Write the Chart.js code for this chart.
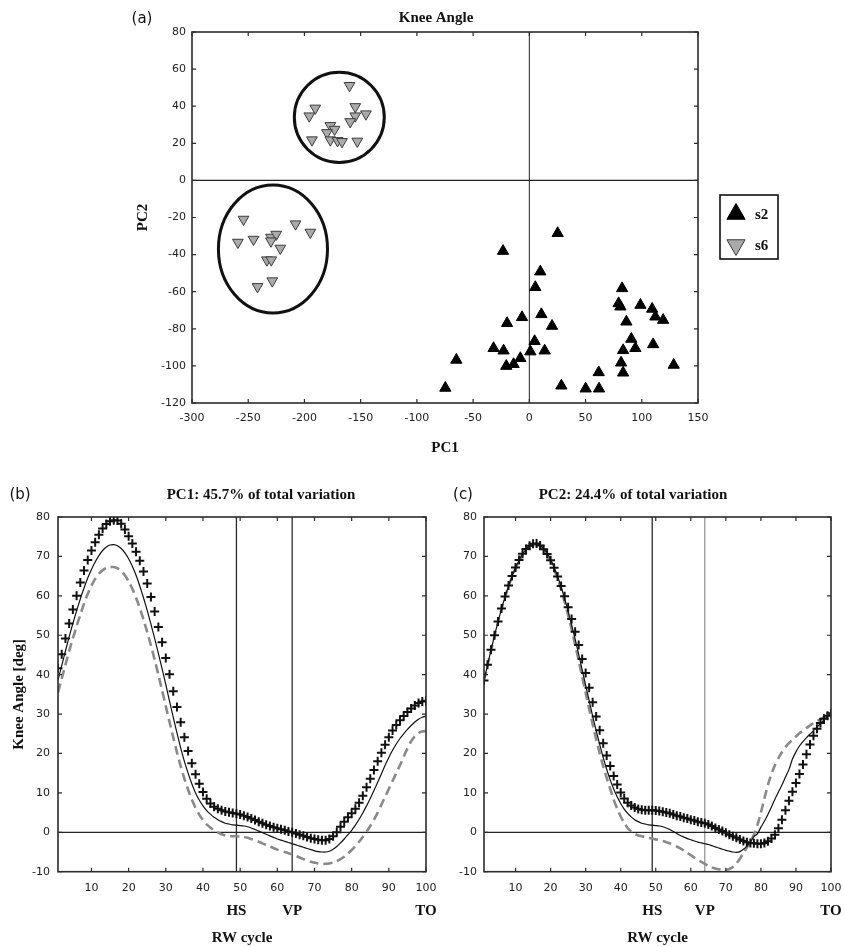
<!DOCTYPE html>
<html>
<head>
<meta charset="utf-8">
<script src="https://cdn.jsdelivr.net/npm/chart.js@4.4.1/dist/chart.umd.min.js"></script>
<style>
  html, body { margin: 0; padding: 0; background: #fff; }
  #wrap { position: relative; width: 844px; height: 947px; overflow: hidden; }
  canvas { position: absolute; }
</style>
</head>
<body>
<div id="wrap">
  <canvas id="chartA" width="844" height="465" style="left:0;top:0"></canvas>
  <canvas id="chartB" width="450" height="477" style="left:0;top:470px"></canvas>
  <canvas id="chartC" width="412" height="477" style="left:440px;top:470px"></canvas>
</div>
<script>
// ---- (a) scores on PC1 / PC2 ----
const s2PC1 = [25.2, -23.4, 9.8, 5.3, 82.5, 79.4, 81.0, 98.8, 109.2, 112.1, 119.0, 86.3, -6.5, 10.7, -19.8, 20.2, 90.7, 4.7, -31.8, -22.9, 13.6, 0.9, 94.3, 110.1, 83.4, -8.0, -14.0, -20.5, 81.6, 128.4, -64.9, 61.7, 83.4, -74.7, 28.5, 50.1, 62.0];
const s2PC2 = [-28.5, -38.1, -49.2, -57.6, -58.2, -66.3, -68.1, -67.2, -69.3, -73.5, -75.3, -76.2, -73.8, -72.2, -77.0, -78.5, -85.5, -86.7, -90.5, -91.8, -91.8, -92.3, -90.5, -88.4, -91.6, -95.9, -99.1, -100.1, -98.3, -99.5, -96.8, -103.5, -103.7, -111.9, -110.7, -112.3, -112.3];
const s6PC1 = [-159.9, -190.4, -195.7, -154.8, -154.8, -145.3, -159.3, -177, -173.2, -180, -193.3, -177, -170.6, -166.6, -153, -254.2, -259.2, -245.3, -229.8, -225.1, -229.8, -207.9, -194.8, -221.5, -233.4, -229.5, -228.6, -241.7];
const s6PC2 = [51.1, 38.9, 34.7, 39.7, 34.7, 35.8, 31.6, 29.5, 27.5, 25.7, 21.8, 21.8, 21.4, 20.9, 21.1, -21.0, -33.4, -31.8, -30.7, -29.1, -32.7, -23.5, -28.0, -36.6, -42.9, -42.9, -54.2, -57.3];
// circled groups (centre and half-axes, in PC units)
const groupCx = [-169, -228];
const groupCy = [34, -37];
const groupRx = [40, 48.5];
const groupRy = [24.3, 34.5];

// ---- (b), (c) knee angle over the RW cycle ----
const cycle = [1,2,3,4,5,6,7,8,9,10,11,12,13,14,15,16,17,18,19,20,21,22,23,24,25,26,27,28,29,30,31,32,33,34,35,36,37,38,39,40,41,42,43,44,45,46,47,48,49,50,51,52,53,54,55,56,57,58,59,60,61,62,63,64,65,66,67,68,69,70,71,72,73,74,75,76,77,78,79,80,81,82,83,84,85,86,87,88,89,90,91,92,93,94,95,96,97,98,99,100];
const cycleTicks = [10, 20, 30, 40, 50, 60, 70, 80, 90, 100];
const eventPos = [49, 64, 100];
const eventNames = ['HS', 'VP', 'TO'];

const meanB = [38.6,42.3,46,49.6,53,56.2,59.2,62,64.5,66.7,68.6,70.2,71.5,72.4,72.9,73,72.7,72,70.9,69.4,67.5,65.2,62.5,59.5,56.3,52.8,49.2,45.4,41.5,37.5,33.3,29.2,25.2,21.4,18,15,12.3,10,8.2,6.7,5.5,4.6,3.8,3.2,2.7,2.3,2.1,1.9,1.8,1.7,1.6,1.4,1.1,0.7,0.3,-0.1,-0.5,-0.9,-1.3,-1.7,-2,-2.3,-2.6,-2.9,-3.2,-3.5,-3.8,-4.1,-4.4,-4.7,-4.9,-5,-5,-4.8,-4.3,-3.6,-2.7,-1.7,-0.6,0.5,1.8,3.3,4.9,6.7,8.6,10.6,12.7,14.8,17,19,20.8,22.4,23.8,25,26.1,27.1,28,28.7,29.2,29.5];
const plusB = [41.6,45.2,49.2,53,56.5,60,63.4,66.4,69.1,71.5,73.6,75.5,77.1,78.2,78.9,79.2,79.1,78.3,76.8,75.1,73.3,71.2,68.9,66.2,63.1,59.7,56,52.1,48.2,44.2,40.1,35.8,31.8,27.9,24.1,20.6,17.5,14.7,12.3,10.2,8.5,7.3,6.5,6,5.6,5.3,5.1,4.9,4.7,4.5,4.2,3.9,3.5,3.1,2.7,2.3,1.9,1.6,1.3,1,0.8,0.5,0.2,0,-0.3,-0.6,-0.9,-1.2,-1.5,-1.7,-1.9,-2,-2,-1.7,-1,0,1.4,2.7,3.8,4.8,6,7.5,9.3,11.4,13.6,15.8,18,20.2,22.2,24.1,25.8,27.2,28.4,29.5,30.5,31.4,32.2,32.8,33.2,33.4];
const minusB = [35.5,39,42.5,46,49.2,52.3,55.2,58,60.5,62.6,64.3,65.6,66.5,67.1,67.3,67.3,67,66.3,65.2,63.7,61.8,59.5,56.9,54,50.8,47.4,43.8,40,36,32,28,24.1,20.3,16.8,13.6,10.8,8.3,6.2,4.5,3.1,2,1.2,0.5,0,-0.5,-0.8,-1,-1,-1,-1.1,-1.2,-1.4,-1.7,-2,-2.4,-2.8,-3.2,-3.6,-4,-4.4,-4.7,-5,-5.3,-5.6,-6,-6.4,-6.8,-7.2,-7.5,-7.7,-7.9,-8,-8,-7.9,-7.7,-7.3,-6.8,-6.2,-5.4,-4.5,-3.5,-2.4,-1.2,0.1,1.6,3.2,5,7,9,11,13,15,17,19.2,21.3,23.1,24.4,25.2,25.6,25.7];

const meanC = [38.5,42.4,46.2,49.9,53.4,56.7,59.7,62.5,64.9,67.1,69,70.6,71.8,72.6,73.1,73.2,72.8,72,70.8,69.2,67.2,64.9,62.3,59.3,56.1,52.6,49,45.2,41.3,37.3,33.4,29.5,25.8,22.3,19,16,13.3,11,9,7.3,5.9,4.8,3.9,3.2,2.7,2.3,2.1,1.9,1.8,1.7,1.6,1.4,1.1,0.7,0.2,-0.3,-0.8,-1.2,-1.6,-1.9,-2.2,-2.5,-2.7,-2.9,-3.1,-3.4,-3.7,-4,-4.3,-4.6,-4.8,-5,-5.1,-4.9,-4.3,-3.5,-2.5,-1.1,-0.4,1.3,2.8,4.5,6.4,8.4,10.2,12,14,15.9,18.6,20.4,21.9,23,24,24.9,25.8,26.7,27.6,28.5,29.4,30.2];
const plusC = [38.5,42.5,46.3,50,53.5,56.8,59.8,62.6,65,67.2,69.1,70.7,71.9,72.7,73.2,73.3,72.8,71.8,70.6,69,67.1,64.9,62.5,59.9,57.1,54.1,50.9,47.5,44,40.4,36.7,33,29.4,25.9,22.6,19.5,16.8,14.3,12.1,10.1,8.6,7.5,6.8,6.3,5.9,5.7,5.6,5.6,5.6,5.5,5.4,5.2,5,4.8,4.5,4.2,4,3.7,3.5,3.2,3,2.7,2.5,2.3,2,1.6,1.1,0.7,0.3,-0.1,-0.6,-1,-1.4,-1.8,-2.2,-2.5,-2.7,-2.8,-2.9,-2.9,-2.7,-2.3,-1.6,-0.6,1,3.2,5.6,8,10.3,12.5,14.8,17.2,19.8,22.3,24.5,26.3,27.7,28.8,29.6,30.2];
const minusC = [38.5,42.3,46.1,49.8,53.3,56.6,59.6,62.4,64.8,67,68.9,70.5,71.7,72.5,73,73.1,72.7,71.8,70.5,68.9,66.8,64.4,61.6,58.5,55.1,51.5,47.6,43.6,39.5,35.4,31.3,27.4,23.6,20.1,16.8,13.8,11.1,8.3,6,4,2.4,1.1,0.2,-0.4,-0.8,-1,-1.2,-1.4,-1.6,-1.8,-2,-2.2,-2.5,-2.8,-3.2,-3.6,-4.1,-4.6,-5.2,-5.8,-6.4,-7,-7.5,-8,-8.5,-8.9,-9.2,-9.4,-9.5,-9.5,-9.3,-8.8,-7.9,-6.7,-5.3,-3.9,-2.4,-0.6,1.8,5,8.6,12,14.8,17,18.8,20.3,21.6,22.6,23.5,24.3,25.1,25.8,26.5,27.1,27.7,28.2,28.7,29.2,29.6,29.9];

const serif = "'Liberation Serif', 'DejaVu Serif', serif";
const sans = "'DejaVu Sans', 'Liberation Sans', sans-serif";
const tickFont = { family: sans, size: 11 };
const labelFont = { family: serif, size: 15, weight: 'bold' };
const noGrid = { display: false, drawTicks: false, tickLength: 0 };

// zero lines / event lines under the data, box and inward ticks over it
const axesBox = {
  id: 'axesBox',
  beforeDatasetsDraw(chart, args, opts) {
    const { ctx, chartArea: a, scales: { x, y } } = chart;
    ctx.save();
    (opts.vLines || []).forEach((l) => {
      const px = x.getPixelForValue(l.value);
      ctx.strokeStyle = l.color;
      ctx.lineWidth = l.width;
      ctx.beginPath();
      ctx.moveTo(px, a.top);
      ctx.lineTo(px, a.bottom);
      ctx.stroke();
    });
    (opts.hLines || []).forEach((l) => {
      const py = y.getPixelForValue(l.value);
      ctx.strokeStyle = l.color;
      ctx.lineWidth = l.width;
      ctx.beginPath();
      ctx.moveTo(a.left, py);
      ctx.lineTo(a.right, py);
      ctx.stroke();
    });
    ctx.restore();
  },
  afterDatasetsDraw(chart, args, opts) {
    const { ctx, chartArea: a, scales: { x, y } } = chart;
    const t = 4;
    ctx.save();
    ctx.strokeStyle = '#2b2b2b';
    ctx.lineWidth = 1.2;
    ctx.beginPath();
    x.ticks.forEach((tk) => {
      const px = x.getPixelForValue(tk.value);
      ctx.moveTo(px, a.bottom); ctx.lineTo(px, a.bottom - t);
      ctx.moveTo(px, a.top); ctx.lineTo(px, a.top + t);
    });
    y.ticks.forEach((tk) => {
      const py = y.getPixelForValue(tk.value);
      ctx.moveTo(a.left, py); ctx.lineTo(a.left + t, py);
      ctx.moveTo(a.right, py); ctx.lineTo(a.right - t, py);
    });
    ctx.stroke();
    ctx.lineWidth = 1.6;
    ctx.strokeRect(a.left, a.top, a.right - a.left, a.bottom - a.top);
    ctx.restore();
  }
};

// free text: panel letters and titles
const panelText = {
  id: 'panelText',
  afterDraw(chart, args, opts) {
    const { ctx } = chart;
    ctx.save();
    ctx.fillStyle = '#111';
    ctx.textAlign = 'center';
    ctx.textBaseline = 'middle';
    (opts.items || []).forEach((it) => {
      ctx.font = it.font;
      ctx.fillText(it.text, it.x, it.y);
    });
    ctx.restore();
  }
};

// ellipses round the two s6 groups
const groupRings = {
  id: 'groupRings',
  afterDatasetsDraw(chart) {
    const { ctx, scales: { x, y } } = chart;
    ctx.save();
    ctx.strokeStyle = '#111';
    ctx.lineWidth = 3;
    groupCx.forEach((cx, i) => {
      const px = x.getPixelForValue(cx);
      const py = y.getPixelForValue(groupCy[i]);
      const rx = Math.abs(x.getPixelForValue(cx + groupRx[i]) - px);
      const ry = Math.abs(y.getPixelForValue(groupCy[i] + groupRy[i]) - py);
      ctx.beginPath();
      ctx.ellipse(px, py, rx, ry, 0, 0, Math.PI * 2);
      ctx.stroke();
    });
    ctx.restore();
  }
};

// boxed legend to the right of the plot
const boxLegend = {
  id: 'boxLegend',
  afterDraw(chart) {
    const { ctx, chartArea: a } = chart;
    const left = a.right + 22, top = a.top + 163, w = 58, h = 64;
    ctx.save();
    ctx.strokeStyle = '#111';
    ctx.lineWidth = 1.6;
    ctx.strokeRect(left, top, w, h);
    chart.data.datasets.forEach((ds, i) => {
      const cy = top + 19 + i * 31;
      ctx.fillStyle = ds.pointBackgroundColor;
      ctx.strokeStyle = ds.pointBorderColor;
      ctx.lineWidth = 1;
      Chart.helpers.drawPoint(ctx, { pointStyle: ds.pointStyle, rotation: ds.pointRotation || 0, radius: 10.5, borderWidth: 1 }, left + 16, cy);
      ctx.fillStyle = '#111';
      ctx.font = 'bold 15px ' + serif;
      ctx.textAlign = 'left';
      ctx.textBaseline = 'middle';
      ctx.fillText(ds.label, left + 35, cy + 1);
    });
    ctx.restore();
  }
};

new Chart(document.getElementById('chartA'), {
  type: 'scatter',
  data: {
    datasets: [
      {
        label: 's2',
        data: s2PC1.map((v, i) => ({ x: v, y: s2PC2[i] })),
        pointStyle: 'triangle',
        pointRadius: 6.5,
        pointBackgroundColor: '#000',
        pointBorderColor: '#000',
        pointBorderWidth: 1
      },
      {
        label: 's6',
        data: s6PC1.map((v, i) => ({ x: v, y: s6PC2[i] })),
        pointStyle: 'triangle',
        pointRotation: 180,
        pointRadius: 6.2,
        pointBackgroundColor: '#aaaaaa',
        pointBorderColor: '#3c3c3c',
        pointBorderWidth: 1
      }
    ]
  },
  options: {
    responsive: false,
    animation: false,
    layout: { padding: { left: 126, right: 146, top: 32, bottom: 5 } },
    plugins: {
      legend: { display: false },
      tooltip: { enabled: false },
      axesBox: {
        vLines: [{ value: 0, color: '#222', width: 1 }],
        hLines: [{ value: 0, color: '#222', width: 1.2 }]
      },
      panelText: {
        items: [
          { text: '(a)', x: 142, y: 19, font: '15px ' + sans },
          { text: 'Knee Angle', x: 436, y: 18, font: 'bold 15px ' + serif }
        ]
      }
    },
    scales: {
      x: {
        type: 'linear',
        min: -300,
        max: 150,
        ticks: { stepSize: 50, padding: 9, font: tickFont, color: '#222', maxRotation: 0 },
        grid: noGrid,
        border: { display: false },
        title: { display: true, text: 'PC1', font: labelFont, color: '#111', padding: { top: 0, bottom: 3 } },
        afterFit(s) { s.height = 57; }
      },
      y: {
        min: -120,
        max: 80,
        ticks: { stepSize: 20, padding: 6, font: tickFont, color: '#222' },
        grid: noGrid,
        border: { display: false },
        title: { display: true, text: 'PC2', font: labelFont, color: '#111', padding: { top: 8, bottom: 0 } },
        afterFit(s) { s.width = 66; }
      }
    }
  },
  plugins: [axesBox, groupRings, boxLegend, panelText]
});

function pts(arr) {
  return cycle.map((c, i) => ({ x: c, y: arr[i] }));
}

function kneeChart(id, mean, plus, minus, opt) {
  return new Chart(document.getElementById(id), {
    type: 'line',
    data: {
      datasets: [
        {
          label: '+',
          data: pts(plus),
          showLine: false,
          pointStyle: 'cross',
          pointRadius: 4.5,
          pointBorderWidth: 2,
          pointBorderColor: '#111',
          order: 0
        },
        {
          label: 'mean',
          data: pts(mean),
          borderColor: '#111',
          borderWidth: 1.2,
          pointRadius: 0,
          tension: 0.2,
          order: 1
        },
        {
          label: '-',
          data: pts(minus),
          borderColor: '#8a8a8a',
          borderWidth: 2.6,
          borderDash: [9, 5],
          pointRadius: 0,
          tension: 0.2,
          order: 2
        }
      ]
    },
    options: {
      responsive: false,
      animation: false,
      layout: { padding: { left: 0, right: opt.padRight, top: 47, bottom: 0 } },
      plugins: {
        legend: { display: false },
        tooltip: { enabled: false },
        axesBox: {
          vLines: [
            { value: eventPos[0], color: '#2b2b2b', width: 1.3 },
            { value: eventPos[1], color: opt.vpColor, width: opt.vpWidth }
          ],
          hLines: [{ value: 0, color: '#222', width: 1.3 }]
        },
        panelText: { items: opt.texts }
      },
      scales: {
        x: {
          type: 'linear',
          min: 1,
          max: 100,
          weight: 0,
          afterBuildTicks(s) { s.ticks = cycleTicks.map((v) => ({ value: v })); },
          ticks: { padding: 10, font: tickFont, color: '#222', autoSkip: false, maxRotation: 0 },
          grid: noGrid,
          border: { display: false },
          afterFit(s) { s.height = 22; }
        },
        x2: {
          type: 'linear',
          position: 'bottom',
          axis: 'x',
          min: 1,
          max: 100,
          weight: 1,
          afterBuildTicks(s) { s.ticks = eventPos.map((v) => ({ value: v })); },
          ticks: {
            padding: 8,
            font: labelFont,
            color: '#111',
            autoSkip: false,
            maxRotation: 0,
            callback: (v) => eventNames[eventPos.indexOf(v)]
          },
          grid: noGrid,
          border: { display: false },
          title: { display: true, text: 'RW cycle', font: labelFont, color: '#111', padding: { top: 0, bottom: 0 } },
          afterFit(s) { s.height = 53.3; }
        },
        y: {
          min: -10,
          max: 80,
          ticks: { stepSize: 10, padding: opt.yPad, font: tickFont, color: '#222' },
          grid: noGrid,
          border: { display: false },
          title: { display: opt.yTitle !== '', text: opt.yTitle, font: labelFont, color: '#111', padding: { top: 10, bottom: 0 } },
          afterFit(s) { s.width = opt.yWidth; }
        }
      }
    },
    plugins: [axesBox, panelText]
  });
}

kneeChart('chartB', meanB, plusB, minusB, {
  padRight: 24,
  yWidth: 58,
  yPad: 8,
  yTitle: 'Knee Angle [deg]',
  vpColor: '#2b2b2b',
  vpWidth: 1.3,
  texts: [
    { text: '(b)', x: 20, y: 25, font: '15px ' + sans },
    { text: 'PC1: 45.7% of total variation', x: 261, y: 25, font: 'bold 15px ' + serif }
  ]
});

kneeChart('chartC', meanC, plusC, minusC, {
  padRight: 21,
  yWidth: 44,
  yPad: 7,
  yTitle: '',
  vpColor: '#777',
  vpWidth: 1,
  texts: [
    { text: '(c)', x: 23, y: 25, font: '15px ' + sans },
    { text: 'PC2: 24.4% of total variation', x: 193, y: 25, font: 'bold 15px ' + serif }
  ]
});
</script>
</body>
</html>
